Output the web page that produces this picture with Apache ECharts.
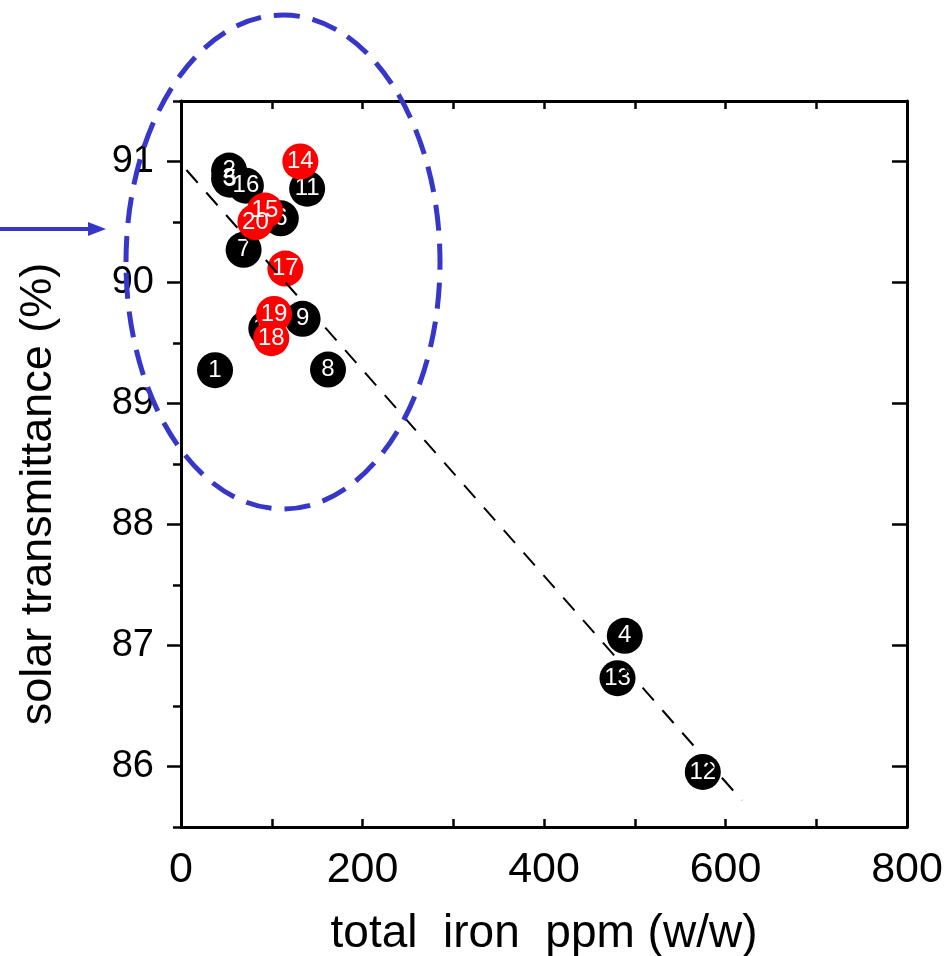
<!DOCTYPE html>
<html>
<head>
<meta charset="utf-8">
<script src="https://cdn.jsdelivr.net/npm/echarts@6/dist/echarts.min.js"></script>
<style>
  html, body { margin: 0; padding: 0; background: #fff; }
  #main { width: 947px; height: 956px; }
</style>
</head>
<body>
<div id="main"></div>
<script>
var blackIds = ['1', '2', '3', '4', '5', '6', '7', '8', '9', '10', '11', '12', '13', '16'];
var blackIron = [37.5, 53, 53, 489, 54, 110, 69, 162, 134, 94, 139, 575, 481, 71.5];
var blackTrans = [89.275, 90.925, 90.86, 87.08, 90.85, 90.53, 90.27, 89.28, 89.70, 89.62, 90.775, 85.955, 86.73, 90.80];

var redIds = ['14', '15', '17', '18', '19', '20'];
var redIron = [131.5, 92.5, 115, 99.5, 102.5, 82];
var redTrans = [91.0, 90.595, 90.115, 89.54, 89.74, 90.50];

var fitIron = [6, 618];
var fitTrans = [90.93, 85.72];

var xLabelTicks = [0, 200, 400, 600, 800];
var yMajorTicks = [86, 87, 88, 89, 90, 91];

var font = '"Liberation Sans", Arial, sans-serif';
var blue = '#3636c8';

function pairs(xs, ys, ids) {
  var out = [];
  for (var i = 0; i < xs.length; i++) {
    out.push(ids ? { value: [xs[i], ys[i]], name: ids[i] } : [xs[i], ys[i]]);
  }
  return out;
}

var myChart = echarts.init(document.getElementById('main'));

var axisLine = { show: true, onZero: false, lineStyle: { color: '#000', width: 3 } };

var option = {
  backgroundColor: '#fff',
  animation: false,
  grid: { left: 181, top: 101, right: 40, bottom: 129, outerBoundsMode: 'none' },
  xAxis: [
    {
      type: 'value',
      position: 'bottom',
      min: 0,
      max: 800,
      interval: 100,
      name: 'total  iron  ppm (w/w)',
      nameLocation: 'middle',
      nameGap: 84,
      nameTextStyle: { fontFamily: font, fontSize: 46, color: '#000' },
      axisLine: axisLine,
      axisTick: { inside: true, length: 8, lineStyle: { color: '#000', width: 2.5 } },
      axisLabel: {
        customValues: xLabelTicks,
        margin: 22,
        fontFamily: font,
        fontSize: 43,
        color: '#000'
      },
      splitLine: { show: false }
    },
    {
      type: 'value',
      position: 'top',
      min: 0,
      max: 800,
      interval: 100,
      axisLine: axisLine,
      axisTick: { inside: true, length: 8, lineStyle: { color: '#000', width: 2.5 } },
      axisLabel: { show: false },
      splitLine: { show: false }
    }
  ],
  yAxis: [
    {
      type: 'value',
      position: 'left',
      min: 85.5,
      max: 91.5,
      name: 'solar transmittance (%)',
      nameLocation: 'middle',
      nameGap: 120,
      nameTextStyle: { fontFamily: font, fontSize: 45, color: '#000', padding: [0, 60, 0, 0] },
      axisLine: axisLine,
      axisTick: { customValues: yMajorTicks, length: 14, lineStyle: { color: '#000', width: 2.5 } },
      axisLabel: {
        customValues: yMajorTicks,
        margin: 27,
        fontFamily: font,
        fontSize: 38,
        color: '#000'
      },
      splitLine: { show: false }
    },
    {
      type: 'value',
      position: 'left',
      min: 85.5,
      max: 91.5,
      interval: 0.5,
      axisLine: { show: false },
      axisTick: { length: 8, lineStyle: { color: '#000', width: 2.5 } },
      axisLabel: { show: false },
      splitLine: { show: false }
    },
    {
      type: 'value',
      position: 'right',
      min: 85.5,
      max: 91.5,
      axisLine: axisLine,
      axisTick: { customValues: yMajorTicks, inside: true, length: 15, lineStyle: { color: '#000', width: 2.5 } },
      axisLabel: { show: false },
      splitLine: { show: false }
    },
    {
      type: 'value',
      position: 'right',
      min: 85.5,
      max: 91.5,
      interval: 0.5,
      axisLine: { show: false },
      axisTick: { inside: true, length: 8, lineStyle: { color: '#000', width: 2.5 } },
      axisLabel: { show: false },
      splitLine: { show: false }
    }
  ],
  series: [
    {
      type: 'scatter',
      name: 'black',
      z: 2,
      symbolSize: 36,
      itemStyle: { color: '#000', opacity: 1 },
      label: {
        show: true,
        position: 'inside',
        formatter: '{b}',
        color: '#fff',
        fontFamily: font,
        fontSize: 24
      },
      data: pairs(blackIron, blackTrans, blackIds)
    },
    {
      type: 'scatter',
      name: 'red',
      z: 3,
      symbolSize: 36,
      itemStyle: { color: '#ff0000', opacity: 1 },
      label: {
        show: true,
        position: 'inside',
        formatter: '{b}',
        color: '#fff',
        fontFamily: font,
        fontSize: 24
      },
      data: pairs(redIron, redTrans, redIds)
    },
    {
      type: 'line',
      name: 'fit',
      z: 5,
      symbol: 'none',
      silent: true,
      lineStyle: { color: '#000', width: 2, type: [17, 13] },
      data: pairs(fitIron, fitTrans)
    }
  ],
  graphic: [
    {
      type: 'ellipse',
      z: 100,
      shape: { cx: 283, cy: 262, rx: 157, ry: 247 },
      style: { fill: null, stroke: blue, lineWidth: 5, lineDash: [26, 13] }
    },
    {
      type: 'line',
      z: 100,
      shape: { x1: 0, y1: 229, x2: 92, y2: 229 },
      style: { stroke: blue, lineWidth: 4 }
    },
    {
      type: 'polygon',
      z: 100,
      shape: { points: [[88, 222], [106, 229], [88, 236]] },
      style: { fill: blue }
    }
  ]
};

myChart.setOption(option);
</script>
</body>
</html>
